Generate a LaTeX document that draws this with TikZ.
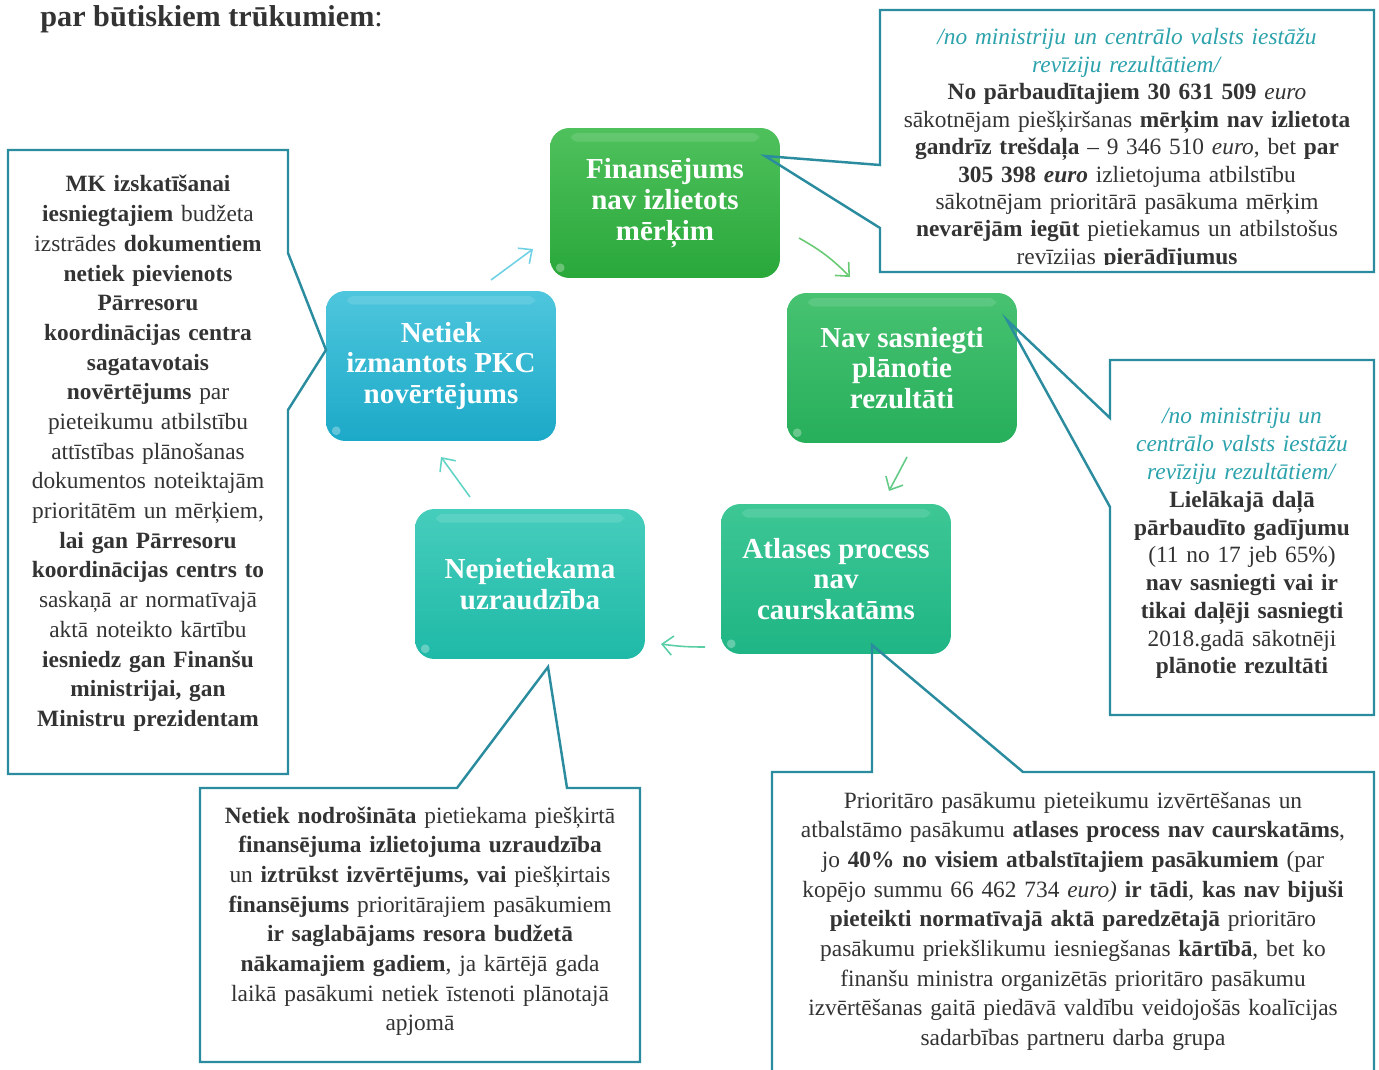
\documentclass[tikz,border=0pt]{standalone}
\usepackage{fontspec}
\setmainfont{Liberation Serif}
\usetikzlibrary{arrows.meta,calc}

\definecolor{callout}{HTML}{2A8C9E}
\definecolor{ital}{HTML}{2BA2AC}
\definecolor{txt}{HTML}{333333}
\definecolor{finA}{HTML}{4FC15C}\definecolor{finB}{HTML}{29A83A}
\definecolor{navA}{HTML}{47C271}\definecolor{navB}{HTML}{27AF5B}
\definecolor{atlA}{HTML}{3DC795}\definecolor{atlB}{HTML}{1FB584}
\definecolor{nepA}{HTML}{46CDBC}\definecolor{nepB}{HTML}{1FB9A7}
\definecolor{netA}{HTML}{4EC6DD}\definecolor{netB}{HTML}{1CA9C8}

\tikzset{
  stepbox/.style={rounded corners=11pt, minimum width=4.6cm, minimum height=3cm,
    align=center, text=white, font=\bfseries\fontsize{16.5}{17.5}\selectfont},
  calloutline/.style={draw=callout, line width=1.4pt, line join=miter},
  note/.style={anchor=base, inner sep=0pt, align=center, text=txt,
    font=\fontsize{13.3}{16.9}\selectfont},
  cyc/.style={line width=0.9pt, -{Straight Barb[length=6pt,width=11pt]}},
}
\newcommand{\ita}[1]{\textcolor{ital}{\textit{#1}}}

\begin{document}
\begin{tikzpicture}[x=0.02cm,y=-0.02cm]
\useasboundingbox (0,0) rectangle (1379,1070);

% title
\node[anchor=base west, inner sep=0pt, text=txt, font=\bfseries\fontsize{17.2}{20}\selectfont]
  (title) at (40,27) {par būtiskiem trūkumiem{\mdseries :}};

% cycle boxes
\node[stepbox, top color=finA, bottom color=finB] (fin) at (665,203) {Finansējums\\nav izlietots\\mērķim};
\node[stepbox, top color=navA, bottom color=navB] (nav) at (902,368) {Nav sasniegti\\plānotie\\rezultāti};
\node[stepbox, top color=atlA, bottom color=atlB] (atl) at (836,579) {Atlases process\\nav\\caurskatāms};
\node[stepbox, top color=nepA, bottom color=nepB] (nep) at (530,584) {Nepietiekama\\uzraudzība};
\node[stepbox, top color=netA, bottom color=netB] (net) at (441,366) {Netiek\\izmantots PKC\\novērtējums};

% gloss
\foreach \n in {fin,nav,atl,nep,net}{
  \fill[white, opacity=0.12, rounded corners=4pt]
    ([xshift=12pt,yshift=-3pt]\n.north west) rectangle ([xshift=-12pt,yshift=-8pt]\n.north east);
  \fill[white, opacity=0.3] ([xshift=6pt,yshift=6pt]\n.south west) circle (2.5pt);
}

% arrows between boxes
\coordinate (a1) at (491,280); \coordinate (b1) at (533,249);
\coordinate (a2) at (799,238); \coordinate (b2) at (850,277);
\coordinate (a3) at (907,457); \coordinate (b3) at (889,491);
\coordinate (a4) at (705,647); \coordinate (b4) at (661,644);
\coordinate (a5) at (470,497); \coordinate (b5) at (441,457);
\draw[cyc, color=netA!80!white] (a1) -- (b1);
\draw[cyc, color=finA!85!white] (a2) to[bend left=8] (b2);
\draw[cyc, color=navA!85!white] (a3) -- (b3);
\draw[cyc, color=atlA!85!white] (a4) to[bend left=4] (b4);
\draw[cyc, color=nepA!85!white] (a5) -- (b5);

% callouts
\draw[calloutline] (880,10) -- (1374,10) -- (1374,272) -- (880,272) -- (880,228)
  -- (765,156) -- (880,165) -- cycle;
\draw[calloutline] (1110,360) -- (1374,360) -- (1374,715) -- (1110,715) -- (1110,507)
  -- (1007,320) -- (1110,418) -- cycle;
\draw[calloutline] (8,150) -- (288,150) -- (288,253) -- (326,350) -- (288,410)
  -- (288,774) -- (8,774) -- cycle;
\draw[calloutline] (200,788) -- (457,788) -- (548,667) -- (567,788) -- (640,788)
  -- (640,1062) -- (200,1062) -- cycle;
\draw[calloutline] (772,1085) -- (772,772) -- (872,772) -- (872,645) -- (1023,772)
  -- (1374,772) -- (1374,1085);

% callout texts
\begin{scope}
\clip (880,10) rectangle (1374,265);
\node[note, text width=9.6cm, font=\fontsize{13.3}{15.6}\selectfont] (finnote) at (1127,45) {%
\ita{/no ministriju un centrālo valsts iestāžu}\\
\ita{revīziju rezultātiem/}\\
\textbf{No pārbaudītajiem 30 631 509} \textit{euro}\\
sākotnējam piešķiršanas \textbf{mērķim nav izlietota}\\
\textbf{gandrīz trešdaļa} – 9 346 510 \textit{euro}, bet \textbf{par}\\
\textbf{305 398 \textit{euro}} izlietojuma atbilstību\\
sākotnējam prioritārā pasākuma mērķim\\
\textbf{nevarējām iegūt} pietiekamus un atbilstošus\\
revīzijas \textbf{pierādījumus}};
\end{scope}

\node[note, text width=5.1cm, font=\fontsize{13.3}{15.8}\selectfont] (navnote) at (1242,424) {%
\ita{/no ministriju un}\\
\ita{centrālo valsts iestāžu}\\
\ita{revīziju rezultātiem/}\\
\textbf{Lielākajā daļā}\\
\textbf{pārbaudīto gadījumu}\\
(11 no 17 jeb 65\%)\\
\textbf{nav sasniegti vai ir}\\
\textbf{tikai daļēji sasniegti}\\
2018.gadā sākotnēji\\
\textbf{plānotie rezultāti}};

\node[note, text width=5.4cm] (netnote) at (148,192) {%
\textbf{MK izskatīšanai}\\
\textbf{iesniegtajiem} budžeta\\
izstrādes \textbf{dokumentiem}\\
\textbf{netiek pievienots}\\
\textbf{Pārresoru}\\
\textbf{koordinācijas centra}\\
\textbf{sagatavotais}\\
\textbf{novērtējums} par\\
pieteikumu atbilstību\\
attīstības plānošanas\\
dokumentos noteiktajām\\
prioritātēm un mērķiem,\\
\textbf{lai gan Pārresoru}\\
\textbf{koordinācijas centrs to}\\
saskaņā ar normatīvajā\\
aktā noteikto kārtību\\
\textbf{iesniedz gan Finanšu}\\
\textbf{ministrijai, gan}\\
\textbf{Ministru prezidentam}};

\node[note, text width=8.6cm] (nepnote) at (420,823) {%
\textbf{Netiek nodrošināta} pietiekama piešķirtā\\
\textbf{finansējuma izlietojuma uzraudzība}\\
un \textbf{iztrūkst izvērtējums, vai} piešķirtais\\
\textbf{finansējums} prioritārajiem pasākumiem\\
\textbf{ir saglabājams resora budžetā}\\
\textbf{nākamajiem gadiem}, ja kārtējā gada\\
laikā pasākumi netiek īstenoti plānotajā\\
apjomā};

\node[note, text width=11.8cm] (atlnote) at (1073,808) {%
Prioritāro pasākumu pieteikumu izvērtēšanas un\\
atbalstāmo pasākumu \textbf{atlases process nav caurskatāms},\\
jo \textbf{40\% no visiem atbalstītajiem pasākumiem} (par\\
kopējo summu 66 462 734 \textit{euro)} \textbf{ir tādi}, \textbf{kas nav bijuši}\\
\textbf{pieteikti normatīvajā aktā paredzētajā} prioritāro\\
pasākumu priekšlikumu iesniegšanas \textbf{kārtībā}, bet ko\\
finanšu ministra organizētās prioritāro pasākumu\\
izvērtēšanas gaitā piedāvā valdību veidojošās koalīcijas\\
sadarbības partneru darba grupa};
\end{tikzpicture}
\end{document}
